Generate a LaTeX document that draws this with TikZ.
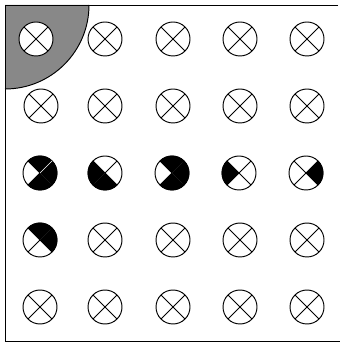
\documentclass[tikz,border=0pt]{standalone}
\usepackage{tikz}
\definecolor{cornergray}{RGB}{136,136,136}
\definecolor{seamgray}{RGB}{45,45,45}
\tikzset{
	ink/.style={line width=0.95},
	seam/.style={line width=0.3,draw=seamgray}
}
% x y in px, y up from the lower edge of the image
\newcommand{\slice}[4]{\fill[black] (#1,#2)--++(#3:17.4) arc[start angle=#3,end angle=#4,radius=17.4]--cycle;}
\newcommand{\cross}[2]{
	\draw[ink] (#1,#2) circle (17);
	\draw[ink] (#1,#2)++(45:17)--++(225:34);
	\draw[ink] (#1,#2)++(135:17)--++(315:34);
}
\begin{document}
\begin{tikzpicture}[x=1pt,y=1pt]
	\useasboundingbox (0,0) rectangle (340,345);
	\fill[cornergray] (5,340)--(89,340) arc[start angle=0,end angle=-90,radius=84]--cycle;
	\draw[ink] (89,340) arc[start angle=0,end angle=-90,radius=84];
	\draw[ink] (338,340)--(5,340)--(5,4)--(340,4);
	\fill[white] (36,306) circle (17);
	\cross{36}{306}
	\foreach \x in {105,173,240,307} {\cross{\x}{306}}
	\foreach \x in {41,105,173,240,307} {\cross{\x}{239}}
	\foreach \x in {40,105,172,239,306} {\cross{\x}{172}}
	\foreach \x in {40,105,173,240,307} {\cross{\x}{105}}
	\foreach \x in {40,105,173,240,307} {\cross{\x}{38}}
	% filled quadrants
	\slice{40}{172}{-135}{135}
	\slice{105}{172}{135}{315}
	\slice{172}{172}{-135}{135}
	\slice{239}{172}{135}{225}
	\slice{306}{172}{-45}{45}
	\slice{40}{105}{-45}{135}
	% lines left showing through the black
	\draw[white,line width=0.7] (40,172)--++(45:17);
	\draw[seam] (40,172)--++(-45:15);
	\draw[seam] (105,172)--++(225:15);
	\draw[seam] (172,172)--++(45:15);
	\draw[seam] (172,172)--++(-45:15);
	\draw[seam] (40,105)--++(45:15);
\end{tikzpicture}
\end{document}
